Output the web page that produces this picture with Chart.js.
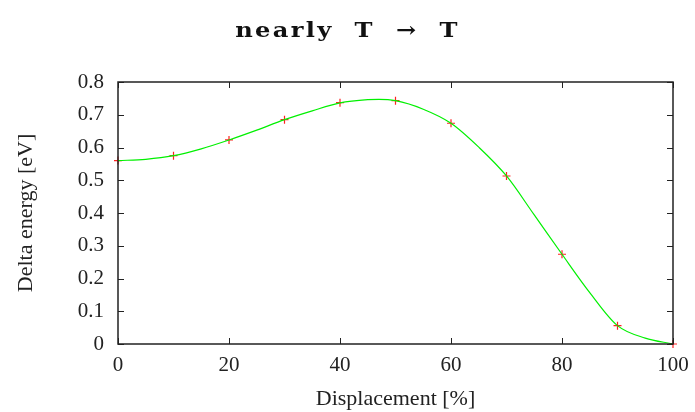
<!DOCTYPE html>
<html>
<head>
<meta charset="utf-8">
<script src="https://cdn.jsdelivr.net/npm/chart.js@4"></script>
<style>
  body { margin: 0; background: #fff; }
  #wrap { position: relative; width: 695px; height: 412px; }
  #title {
    position: absolute; left: 0; top: 17px; width: 695px; text-align: center;
    font: bold 21px "DejaVu Serif", serif; letter-spacing: 2px; word-spacing: 9px;
    color: #111; white-space: pre; transform: scaleX(1.15);
  }
</style>
</head>
<body>
<div id="wrap">
  <div id="title">nearly T → T</div>
  <canvas id="chart" width="695" height="412"></canvas>
</div>
<script>
// computed points (red crosses)
const displacement = [0, 10, 20, 30, 40, 50, 60, 70, 80, 90, 100];
const deltaEnergy = [0.560, 0.575, 0.623, 0.685, 0.737, 0.743, 0.674, 0.513, 0.274, 0.056, 0.000];

// fitted curve (green)
const fitX = [0, 5, 10, 15, 20, 25, 30, 35, 40, 45, 47, 50, 55, 60, 65, 70, 75, 80, 85, 90, 95, 100];
const fitY = [0.560, 0.564, 0.575, 0.596, 0.623, 0.653, 0.685, 0.712, 0.736, 0.746, 0.747, 0.743, 0.717, 0.674, 0.601, 0.513, 0.394, 0.274, 0.157, 0.056, 0.018, 0.000];

// tick labels
const xTicks = [0, 20, 40, 60, 80, 100];
const yTicks = [0, 0.1, 0.2, 0.3, 0.4, 0.5, 0.6, 0.7, 0.8];

const serif = '"Liberation Serif", "Times New Roman", serif';

// frame with inward ticks on all four sides (mirrored like gnuplot)
const framePlugin = {
  id: 'frame',
  afterDatasetsDraw(chart) {
    const { ctx, chartArea: a, scales: { x, y } } = chart;
    const len = 6;
    ctx.save();
    ctx.strokeStyle = '#222';
    ctx.lineWidth = 1;
    ctx.beginPath();
    xTicks.forEach(v => {
      const px = Math.round(x.getPixelForValue(v)) + 0.5;
      ctx.moveTo(px, a.bottom); ctx.lineTo(px, a.bottom - len);
      ctx.moveTo(px, a.top); ctx.lineTo(px, a.top + len);
    });
    yTicks.forEach(v => {
      const py = Math.round(y.getPixelForValue(v)) + 0.5;
      ctx.moveTo(a.left, py); ctx.lineTo(a.left + len, py);
      ctx.moveTo(a.right, py); ctx.lineTo(a.right - len, py);
    });
    ctx.stroke();
    ctx.lineWidth = 1.5;
    ctx.strokeRect(a.left, a.top, a.right - a.left, a.bottom - a.top);
    ctx.restore();
  }
};

new Chart(document.getElementById('chart'), {
  type: 'line',
  data: {
    datasets: [
      {
        label: 'fit',
        data: fitX.map((v, i) => ({ x: v, y: fitY[i] })),
        borderColor: '#00f000',
        borderWidth: 1.2,
        pointRadius: 0,
        cubicInterpolationMode: 'monotone',
        fill: false,
        order: 0
      },
      {
        label: 'points',
        data: displacement.map((v, i) => ({ x: v, y: deltaEnergy[i] })),
        showLine: false,
        pointStyle: 'cross',
        pointRadius: 4,
        borderColor: '#ff2020',
        backgroundColor: '#ff2020',
        pointBorderWidth: 1.2,
        clip: false,
        order: 1
      }
    ]
  },
  options: {
    responsive: false,
    animation: false,
    layout: { padding: { top: 82, right: 22, left: 0, bottom: 0 } },
    plugins: {
      legend: { display: false },
      tooltip: { enabled: false }
    },
    scales: {
      x: {
        type: 'linear',
        min: 0, max: 100,
        afterBuildTicks: s => { s.ticks = xTicks.map(v => ({ value: v })); },
        afterFit: s => { s.height = 68; s.paddingRight = 0; s.paddingLeft = 0; },
        grid: { display: false, drawTicks: false },
        border: { display: false },
        ticks: { padding: 9, color: '#222', font: { family: serif, size: 21 }, maxRotation: 0 },
        title: { display: true, text: 'Displacement [%]', color: '#222', font: { family: serif, size: 22 }, padding: { top: 0, bottom: 0 } }
      },
      y: {
        min: 0, max: 0.8,
        afterBuildTicks: s => { s.ticks = yTicks.map(v => ({ value: v })); },
        afterFit: s => { s.width = 118; },
        grid: { display: false, drawTicks: false },
        border: { display: false },
        ticks: { padding: 14, color: '#222', font: { family: serif, size: 21 }, callback: v => v === 0 ? '0' : v.toFixed(1) },
        title: { display: true, text: 'Delta energy [eV]', color: '#222', font: { family: serif, size: 22 }, padding: { top: 13, bottom: 0 } }
      }
    }
  },
  plugins: [framePlugin]
});
</script>
</body>
</html>
